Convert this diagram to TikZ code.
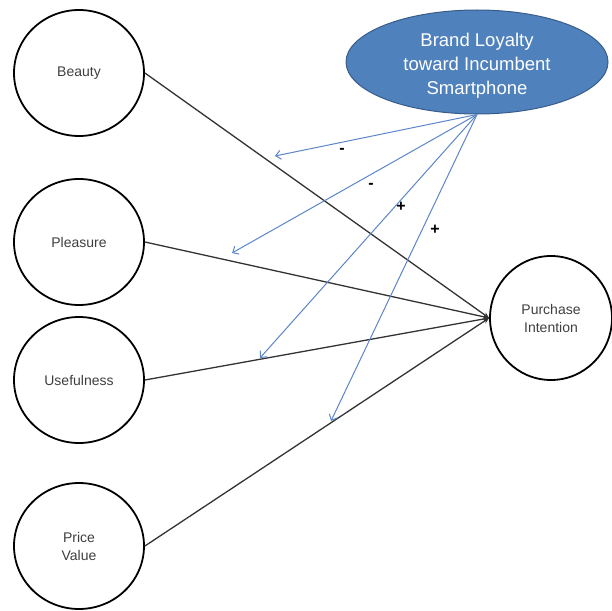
\documentclass[tikz,border=0pt]{standalone}
\usepackage{fontspec}
\setmainfont{Liberation Sans}
\usetikzlibrary{shapes.geometric,arrows.meta}
\definecolor{txt}{HTML}{3F3F3F}
\definecolor{blfill}{HTML}{4F81BD}
\definecolor{bldraw}{HTML}{385D8A}
\definecolor{bline}{HTML}{5B86C8}
\begin{document}
\begin{tikzpicture}[x=1pt,y=-1pt,
  construct/.style={ellipse,draw=black,line width=1.8pt,minimum width=130pt,minimum height=126pt,inner sep=0pt,align=center,text=txt,font=\fontsize{14}{18}\selectfont},
  moderator/.style={ellipse,draw=bldraw,line width=1pt,fill=blfill,minimum width=262pt,minimum height=104pt,inner sep=0pt,align=center,text=white,font=\fontsize{18.5}{24}\selectfont},
  path/.style={draw=black!80,line width=1.3pt,-{Stealth[length=6pt,width=5pt]}},
  modpath/.style={draw=bline,line width=1pt,-{Straight Barb[length=5pt,width=9pt]}},
  sign/.style={font=\fontsize{16}{16}\selectfont\bfseries,text=black}]
\useasboundingbox (0,0) rectangle (612,610);
\node[construct] (b) at (79,73) {Beauty};
\node[construct] (p) at (79,242) {Pleasure};
\node[construct] (u) at (79,380) {Usefulness};
\node[construct] (v) at (79,546) {Price\\Value};
\node[construct,minimum width=122pt,minimum height=124pt] (pi) at (551,318) {Purchase\\Intention};
\node[moderator] (bl) at (477,62) {\parbox{150pt}{\centering\vspace*{7pt}Brand Loyalty\\toward Incumbent\\Smartphone}};
\coordinate (m1) at (275,156);
\coordinate (m2) at (232,253);
\coordinate (m3) at (260,358);
\coordinate (m4) at (331,421);
\draw[path] (b.east) -- (pi.west);
\draw[path] (p.east) -- (pi.west);
\draw[path] (u.east) -- (pi.west);
\draw[path] (v.east) -- (pi.west);
\draw[modpath] (bl.south) -- (m1);
\draw[modpath] (bl.south) -- (m2);
\draw[modpath] (bl.south) -- (m3);
\draw[modpath] (bl.south) -- (m4);
\node[sign] (s1) at (342,151) {-};
\node[sign] (s2) at (371,186) {-};
\node[sign] (s3) at (401,207) {+};
\node[sign] (s4) at (435,230) {+};
\end{tikzpicture}
\end{document}
